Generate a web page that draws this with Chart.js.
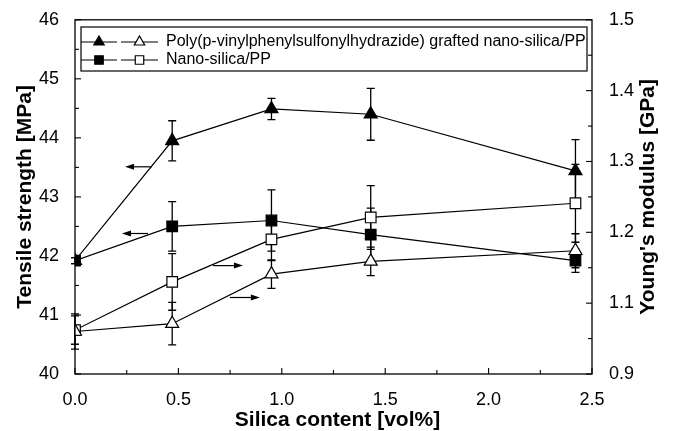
<!DOCTYPE html>
<html>
<head>
<meta charset="utf-8">
<script src="https://cdn.jsdelivr.net/npm/chart.js@4.4.1/dist/chart.umd.min.js"></script>
<style>
html, body { margin: 0; padding: 0; background: #fff; }
#wrap { width: 673px; height: 431px; }
</style>
</head>
<body>
<div id="wrap"><canvas id="c"></canvas></div>
<script>
// silica content (vol%)
var silica = [0.0, 0.47, 0.95, 1.43, 2.42];

// tensile strength, MPa (left axis)
var tensileGrafted = [41.92, 43.95, 44.49, 44.40, 43.44];
var tensileGraftedErr = [0.05, 0.34, 0.18, 0.44, 0.53];
var tensileNano = [41.92, 42.50, 42.60, 42.36, 41.92];
var tensileNanoErr = [0.05, 0.42, 0.52, 0.45, 0.2];

// Young's modulus, GPa (right axis)
var modulusGrafted = [1.060, 1.071, 1.141, 1.159, 1.174];
var modulusGraftedErr = [0.025, 0.03, 0.02, 0.02, 0.024];
var modulusNano = [1.062, 1.130, 1.190, 1.221, 1.241];
var modulusNanoErr = [0.02, 0.04, 0.03, 0.045, 0.055];

var legendLabels = ['Poly(p-vinylphenylsulfonylhydrazide) grafted nano-silica/PP', 'Nano-silica/PP'];
var xTitle = 'Silica content [vol%]';
var yTitle = 'Tensile strength [MPa]';
var y1Title = "Young's modulus [GPa]";

// right axis tick labels as printed on the figure
var rightTickValues = [1.0, 1.1, 1.2, 1.3, 1.4, 1.5];
var rightTickLabels = ['0.9', '1.1', '1.2', '1.3', '1.4', '1.5'];

// arrows telling which axis a curve belongs to (data coords)
var arrowFromX = [0.372, 0.353, 0.667, 0.749];
var arrowToX = [0.242, 0.227, 0.812, 0.894];
var arrowY = [43.51, 42.38, 1.153, 1.108];
var arrowAxis = ['y', 'y', 'y1', 'y1'];

var FONT = '"Liberation Sans", Arial, sans-serif';
Chart.defaults.font.family = FONT;
Chart.defaults.color = '#000';

function pts(xs, ys) {
  var out = [];
  for (var i = 0; i < xs.length; i++) out.push({x: xs[i], y: ys[i]});
  return out;
}

function ds(label, ys, err, axis, style, filled) {
  return {
    label: label,
    data: pts(silica, ys),
    err: err,
    yAxisID: axis,
    showLine: true,
    borderColor: '#000',
    borderWidth: 1.2,
    pointStyle: style,
    pointRadius: 7.5,
    pointHoverRadius: 7.5,
    pointBackgroundColor: filled ? '#000' : '#fff',
    pointBorderColor: '#000',
    pointBorderWidth: 1.2
  };
}

var datasets = [
  ds('grafted tensile', tensileGrafted, tensileGraftedErr, 'y', 'triangle', true),
  ds('nano tensile', tensileNano, tensileNanoErr, 'y', 'rect', true),
  ds('grafted modulus', modulusGrafted, modulusGraftedErr, 'y1', 'triangle', false),
  ds('nano modulus', modulusNano, modulusNanoErr, 'y1', 'rect', false)
];
var legendPairs = [[0, 2], [1, 3]];

function drawTicks(ctx, scale, first, last, step, minorStep, side, area) {
  var n = Math.round((last - first) / minorStep);
  for (var i = 0; i <= n; i++) {
    var v = first + i * minorStep;
    var major = Math.abs(v / step - Math.round(v / step)) < 1e-6;
    var len = major ? 6 : 4;
    var p = scale.getPixelForValue(v);
    ctx.beginPath();
    if (side === 'bottom') { ctx.moveTo(p, area.bottom); ctx.lineTo(p, area.bottom - len); }
    if (side === 'left') { ctx.moveTo(area.left, p); ctx.lineTo(area.left + len, p); }
    if (side === 'right') { ctx.moveTo(area.right, p); ctx.lineTo(area.right - len, p); }
    ctx.stroke();
  }
}

var decor = {
  id: 'decor',
  beforeDatasetsDraw: function (chart) {
    var ctx = chart.ctx;
    ctx.save();
    ctx.strokeStyle = '#000';
    ctx.lineWidth = 1.3;
    chart.data.datasets.forEach(function (d, di) {
      var meta = chart.getDatasetMeta(di);
      var sc = chart.scales[d.yAxisID];
      d.data.forEach(function (p, i) {
        var x = meta.data[i].x;
        var t = sc.getPixelForValue(p.y + d.err[i]);
        var b = sc.getPixelForValue(p.y - d.err[i]);
        ctx.beginPath();
        ctx.moveTo(x, t); ctx.lineTo(x, b);
        ctx.moveTo(x - 4, t); ctx.lineTo(x + 4, t);
        ctx.moveTo(x - 4, b); ctx.lineTo(x + 4, b);
        ctx.stroke();
      });
    });
    ctx.restore();
  },
  afterDraw: function (chart) {
    var ctx = chart.ctx, a = chart.chartArea;
    var sx = chart.scales.x, sy = chart.scales.y, sy1 = chart.scales.y1;
    ctx.save();
    ctx.strokeStyle = '#000';
    ctx.lineWidth = 1.3;
    ctx.strokeRect(a.left, a.top, a.right - a.left, a.bottom - a.top);
    ctx.lineWidth = 1.1;
    drawTicks(ctx, sx, 0, 2.5, 0.5, 0.25, 'bottom', a);
    drawTicks(ctx, sy, 40, 46, 1, 0.5, 'left', a);
    drawTicks(ctx, sy1, 1.0, 1.5, 0.1, 0.05, 'right', a);

    // arrows
    ctx.fillStyle = '#000';
    for (var i = 0; i < arrowY.length; i++) {
      var sc = chart.scales[arrowAxis[i]];
      var y = sc.getPixelForValue(arrowY[i]);
      var x0 = sx.getPixelForValue(arrowFromX[i]);
      var x1 = sx.getPixelForValue(arrowToX[i]);
      var dir = x1 > x0 ? 1 : -1;
      ctx.lineWidth = 1.2;
      ctx.beginPath();
      ctx.moveTo(x0, y); ctx.lineTo(x1 - dir * 5, y);
      ctx.stroke();
      ctx.beginPath();
      ctx.moveTo(x1, y);
      ctx.lineTo(x1 - dir * 9, y - 3);
      ctx.lineTo(x1 - dir * 9, y + 3);
      ctx.closePath();
      ctx.fill();
    }

    // legend
    var lx = 81, ly = 27, lw = 506, lh = 44;
    ctx.fillStyle = '#fff';
    ctx.fillRect(lx, ly, lw, lh);
    ctx.lineWidth = 1.2;
    ctx.strokeRect(lx, ly, lw, lh);
    ctx.font = '16px ' + FONT;
    ctx.textBaseline = 'middle';
    ctx.textAlign = 'left';
    legendPairs.forEach(function (pair, r) {
      var yy = ly + 15 + r * 18;
      var segs = [[lx, lx + 36], [lx + 40, lx + 77]];
      pair.forEach(function (di, k) {
        var d = chart.data.datasets[di];
        ctx.strokeStyle = '#000';
        ctx.lineWidth = 1.2;
        ctx.beginPath();
        ctx.moveTo(segs[k][0], yy); ctx.lineTo(segs[k][1], yy);
        ctx.stroke();
        ctx.fillStyle = d.pointBackgroundColor;
        Chart.helpers.drawPoint(ctx, {pointStyle: d.pointStyle, rotation: 0, radius: 6, borderWidth: 1.2},
          (segs[k][0] + segs[k][1]) / 2, yy);
      });
      ctx.fillStyle = '#000';
      ctx.fillText(legendLabels[r], lx + 85, yy);
    });

    // axis titles
    ctx.fillStyle = '#000';
    ctx.font = 'bold 21px ' + FONT;
    ctx.textAlign = 'center';
    ctx.textBaseline = 'middle';
    ctx.fillText(xTitle, (a.left + a.right) / 2 + 4, 420);
    var cy = (a.top + a.bottom) / 2;
    ctx.save();
    ctx.translate(25, cy);
    ctx.rotate(-Math.PI / 2);
    ctx.fillText(yTitle, 0, 0);
    ctx.restore();
    ctx.save();
    ctx.translate(648, cy);
    ctx.rotate(-Math.PI / 2);
    ctx.fillText(y1Title, 0, 0);
    ctx.restore();
    ctx.restore();
  }
};

new Chart(document.getElementById('c'), {
  type: 'scatter',
  data: { datasets: datasets },
  options: {
    responsive: true,
    maintainAspectRatio: false,
    animation: false,
    events: [],
    layout: { padding: { top: 18, left: 0, right: 0, bottom: 0 } },
    plugins: { legend: { display: false }, tooltip: { enabled: false } },
    scales: {
      x: {
        type: 'linear', min: 0, max: 2.5,
        grid: { display: false }, border: { display: false },
        ticks: { stepSize: 0.5, padding: 7, font: { size: 18 }, maxRotation: 0,
          callback: function (v) { return v.toFixed(1); } },
        afterFit: function (s) { s.height = 57; }
      },
      y: {
        position: 'left', min: 40, max: 46,
        grid: { display: false }, border: { display: false },
        ticks: { stepSize: 1, padding: 8, font: { size: 18 } },
        afterFit: function (s) { s.width = 75; }
      },
      y1: {
        position: 'right', min: 1.0, max: 1.5,
        grid: { display: false }, border: { display: false },
        ticks: { stepSize: 0.1, padding: 9, font: { size: 18 },
          callback: function (v) {
            for (var i = 0; i < rightTickValues.length; i++) {
              if (Math.abs(rightTickValues[i] - v) < 1e-6) return rightTickLabels[i];
            }
            return '';
          } },
        afterFit: function (s) { s.width = 81; }
      }
    }
  },
  plugins: [decor]
});
</script>
</body>
</html>
